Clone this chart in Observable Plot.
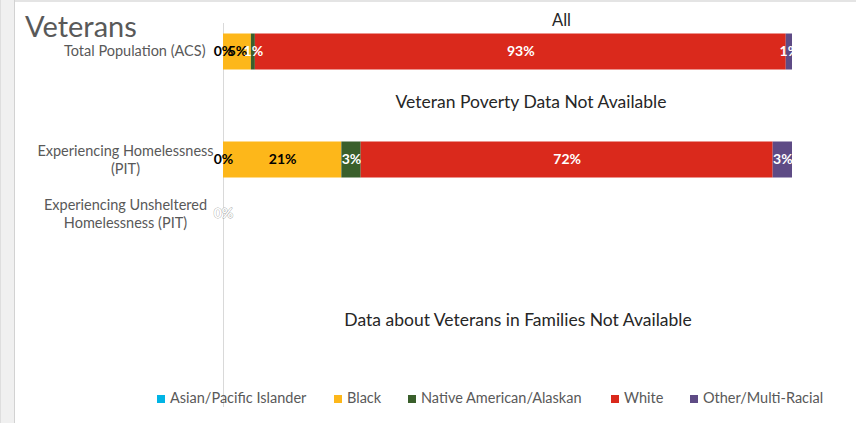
<!DOCTYPE html>
<html>
<head>
<meta charset="utf-8">
<script src="https://cdn.jsdelivr.net/npm/d3@7"></script>
<script src="https://cdn.jsdelivr.net/npm/@observablehq/plot@0.6"></script>
<style>
  html, body { margin: 0; padding: 0; background: #fff; }
  #wrap { position: relative; width: 856px; height: 423px; overflow: hidden; font-family: Lato, "Open Sans", sans-serif; }
  #strip { position: absolute; left: 0; top: 0; width: 13px; height: 423px; background: #f0f0f0; border-left: 1px solid #dedede; border-right: 1px solid #d2d2d2; }
  #topline { position: absolute; left: 15px; top: 0; width: 841px; height: 2px; background: #e4e4e4; }
  #chart { position: absolute; left: 16px; top: 0; }
  #title { position: absolute; left: 25px; top: 11px; font-size: 29px; line-height: 1; color: #595959; }
  .leg { position: absolute; top: 390px; font-size: 14.5px; color: #595959; line-height: 16px; white-space: nowrap; }
  .leg i { display: inline-block; width: 8px; height: 8px; margin-right: 5px; vertical-align: 0px; }
</style>
</head>
<body>
<div id="wrap">
  <div id="strip"></div>
  <div id="topline"></div>
  <div id="chart"></div>
  <div id="title">Veterans</div>
  <div id="legend"></div>
</div>
<script>
const races = ["Asian/Pacific Islander", "Black", "Native American/Alaskan", "White", "Other/Multi-Racial"];
const raceColors = ["#00b4e5", "#fdb71a", "#3a5f2b", "#da291c", "#5e4b85"];
const rows = [
  "Total Population (ACS)",
  "Veteran Poverty",
  "Experiencing Homelessness (PIT)",
  "Experiencing Unsheltered Homelessness (PIT)",
  "Families A",
  "Families B",
  "Families C"
];
const rowLabels = {
  "Total Population (ACS)": "Total Population (ACS)",
  "Experiencing Homelessness (PIT)": "Experiencing Homelessness\n(PIT)",
  "Experiencing Unsheltered Homelessness (PIT)": "Experiencing Unsheltered\nHomelessness (PIT)"
};
const totalValues = [0, 4.9, 0.7, 93.3, 1.1];
const homelessValues = [0, 20.8, 3.4, 72.4, 3.4];
const unshelteredValues = [0, 0, 0, 0, 0];
const darkLabelRaces = ["Asian/Pacific Islander", "Black"];
const notePoverty = [{row: "Veteran Poverty", text: "Veteran Poverty Data Not Available"}];
const noteFamilies = [{row: "Families B", text: "Data about Veterans in Families Not Available"}];
const chartTitle = ["All"];
const legendLeft = [157, 334, 408, 611, 690];

const data = [];
[[rows[0], totalValues], [rows[2], homelessValues], [rows[3], unshelteredValues]].forEach(([row, vals]) => {
  vals.forEach((v, i) => data.push({row, race: races[i], value: v}));
});
const unsheltered = rows[3];
const pct = d => Math.round(d.value) + "%";

const font = "Lato, 'Open Sans', sans-serif";

const plot = Plot.plot({
  width: 840,
  height: 423,
  marginLeft: 207,
  marginRight: 64,
  marginTop: 23,
  marginBottom: 16,
  style: {fontFamily: font, background: "transparent", overflow: "visible"},
  x: {domain: [0, 100], axis: null},
  y: {domain: rows, padding: 0, axis: null},
  color: {domain: races, range: raceColors},
  marks: [
    Plot.ruleX([0], {stroke: "#d9d9d9", strokeWidth: 1}),
    Plot.axisY([rows[0]], {label: null, tickSize: 0, tickPadding: 18, dy: -2, textAnchor: "end", tickFormat: d => rowLabels[d], fontSize: 14.5, fill: "#595959", color: "#595959"}),
    Plot.axisY([rows[2], rows[3]], {label: null, tickSize: 0, tickPadding: 98, dy: -2, textAnchor: "middle", tickFormat: d => rowLabels[d], fontSize: 14.5, lineHeight: 1.25, fill: "#595959", color: "#595959"}),
    Plot.barX(data, Plot.stackX({x: "value", y: "row", z: "race", fill: "race", insetTop: 7.5, insetBottom: 10.5})),
    Plot.text(data, Plot.stackX({x: "value", y: "row", z: "race",
      text: d => (d.row !== unsheltered && darkLabelRaces.includes(d.race)) ? pct(d) : "",
      fill: "black", fontWeight: "bold", fontSize: 14, dy: -2})),
    Plot.text(data, Plot.stackX({x: "value", y: "row", z: "race",
      text: d => (d.row !== unsheltered && !darkLabelRaces.includes(d.race)) ? pct(d) : "",
      fill: "white", fontWeight: "bold", fontSize: 14, dy: -2})),
    Plot.text(data, Plot.stackX({x: "value", y: "row", z: "race",
      text: d => (d.row === unsheltered && d.race === races[0]) ? pct(d) : "",
      fill: "white", stroke: "#a6a6a6", strokeWidth: 0.8, fontWeight: "bold", fontSize: 14, dy: -2})),
    Plot.text(notePoverty, {y: "row", text: "text", frameAnchor: "middle", dx: 23, dy: -5, fontSize: 17.5, fill: "#262626"}),
    Plot.text(noteFamilies, {y: "row", text: "text", frameAnchor: "middle", dx: 10, dy: -3, fontSize: 17.5, fill: "#262626"}),
    Plot.text(chartTitle, {text: d => d, frameAnchor: "top", dx: 53.5, dy: -3, lineAnchor: "middle", fontSize: 16.5, fill: "#262626"})
  ]
});
document.getElementById("chart").appendChild(plot);

const leg = document.getElementById("legend");
races.forEach((r, i) => {
  const el = document.createElement("div");
  el.className = "leg";
  el.style.left = legendLeft[i] + "px";
  el.innerHTML = `<i style="background:${raceColors[i]}"></i>${r}`;
  leg.appendChild(el);
});
</script>
</body>
</html>
